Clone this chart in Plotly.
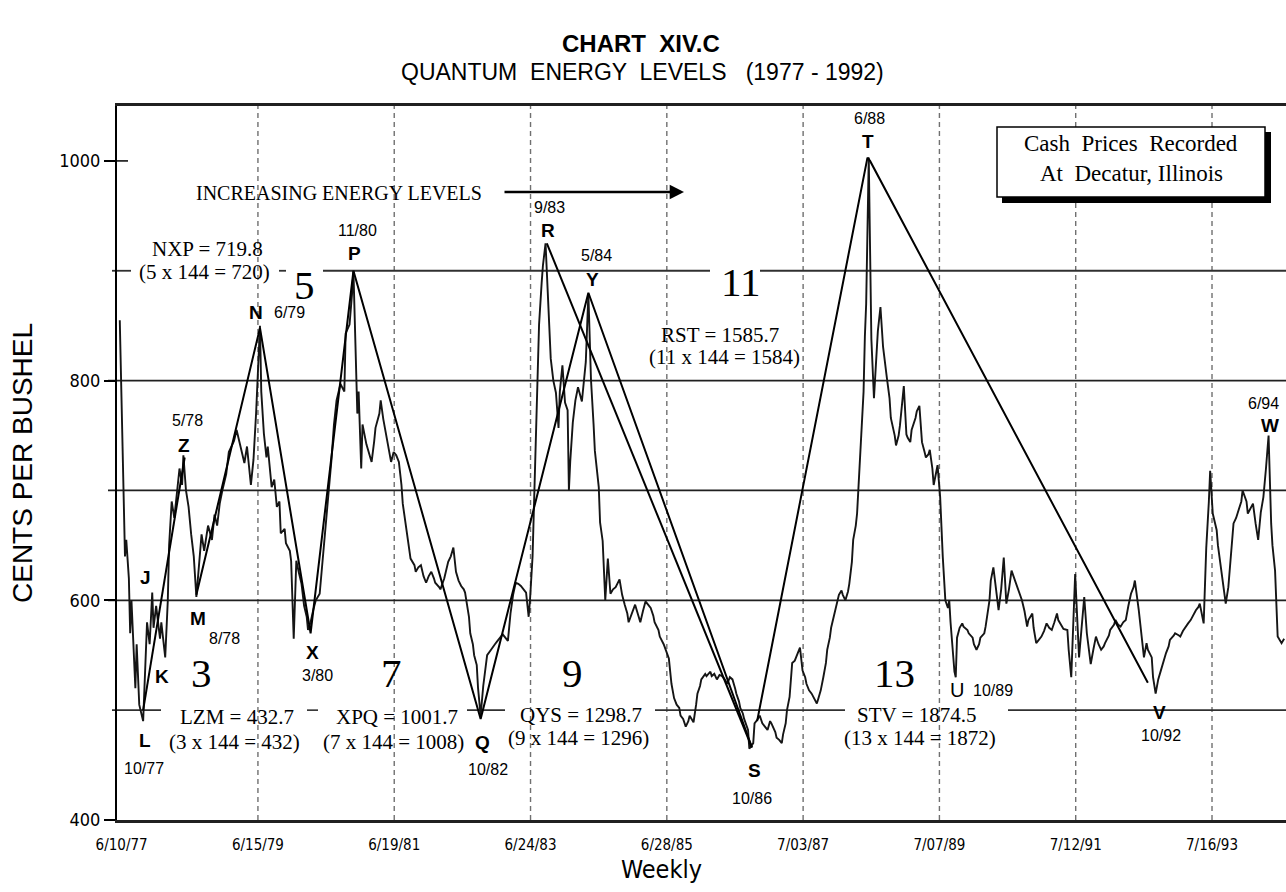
import numpy as np
import pandas as pd
import plotly.graph_objects as go

# ---------------- data ----------------
# weekly cash soybean price, cents per bushel; x = weeks after the first plotted week
week0 = "1977-05-31"
weeks = [0,2,3,4,5,7,8,9,12,13,15,18,19,21,23,25,26,28,31,32,35,37,38,40,42,44,46,48,49,51,53,55,57,59,61,63,65,68,71,73,75,77,79,82,84,88,90,91,94,96,98,100,101,103,105,108,109,111,113,114,117,119,121,123,124,127,128,131,132,134,136,138,140,142,144,145,147,149,151,154,155,157,159,161,163,165,167,170,173,174,177,179,180,
183,184,186,187,190,192,194,196,197,200,201,203,205,207,209,211,213,215,217,218,220,222,224,227,228,230,232,234,236,238,240,242,243,246,247,250,251,253,255,257,259,261,263,265,266,269,270,272,273,275,276,278,280,282,283,286,287,289,291,293,295,297,299,301,303,305,307,309,311,313,315,316,318,320,323,325,326,328,
330,332,334,336,338,339,341,343,345,346,347,349,351,353,356,359,361,363,365,366,369,370,372,374,376,378,380,382,385,387,389,391,392,395,397,399,401,403,405,407,409,411,412,415,416,419,421,423,425,427,429,431,432,434,436,438,439,442,444,445,447,448,451,452,455,456,458,460,462,464,466,468,470,472,474,475,477,478,480,481,484,485,488,489,491,493,495,497,499,501,502,505,506,508,510,511,513,514,516,518,520,521,524,526,528,529,531,533,535,537,538,540,542,544,545,547,548,550,551,553,554,556,557,559,561,562,564,565,567,568,569,570,571,573,574,575,577,
578,579,581,584,586,588,591,593,594,597,598,600,601,603,604,606,607,609,610,613,614,616,618,620,621,623,624,626,627,630,632,634,636,638,639,640,643,644,
645,647,649,650,653,654,657,658,660,662,663,666,667,670,671,673,675,677,679,681,683,685,687,689,691,693,695,697,699,700,703,704,706,708,710,712,714,716,718,720,722,723,726,727,730,731,733,735,736,739,741,743,745,748,750,752,754,756,758,759,762,763,766,767,769,771,773,775,777,779,781,782,785,787,789,791,792,795,796,798,
800,802,804,806,808,809,812,813,816,817,819,821,823,825,827,829,831,832,835,837,839,840,842,845,846,848,850,852,854,855,858,860,862,864,865,868,869,872,873,875,877,879,881,883,885,887,888,890,892,895,897]
cents = [855,760,690,640,655,620,570,600,520,560,505,490,520,580,560,607,575,595,565,580,548,600,650,690,675,700,720,705,732,700,685,660,640,603,630,660,645,668,655,678,668,688,700,715,735,745,755,750,735,725,740,712,705,728,770,850,790,752,730,740,703,710,685,690,661,665,652,645,636,565,636,625,615,595,585,573,580,591,600,606,620,640,675,700,727,760,782,797,790,843,851,880,900,
770,790,720,760,742,735,726,745,757,770,782,765,751,740,726,735,732,726,705,688,670,657,638,632,626,630,632,622,616,622,626,620,616,612,610,620,626,635,640,648,626,618,613,610,607,585,570,560,550,541,520,495,522,540,550,555,557,560,563,566,569,566,563,588,605,616,615,613,610,607,585,600,640,726,851,889,905,925,
867,820,800,789,757,790,814,780,773,700,726,762,782,794,781,817,879,801,760,736,703,671,654,600,638,606,610,612,619,605,596,588,580,590,596,588,580,590,599,596,593,586,580,573,567,560,554,547,524,511,505,502,495,492,485,490,495,489,505,515,522,528,533,531,535,531,533,528,532,531,528,524,530,528,520,515,508,502,497,492,482,465,470,488,491,495,488,485,482,490,488,480,475,473,470,478,488,500,512,543,545,548,557,536,530,524,518,515,510,506,510,518,530,543,555,566,575,585,592,600,605,609,605,600,608,615,635,655,668,679,700,724,744,790,840,870,1003,
928,838,784,845,867,831,802,784,766,750,741,750,759,780,795,751,748,744,755,766,772,777,744,735,730,733,737,720,705,723,694,640,600,593,600,580,535,530,
566,575,579,576,573,570,566,560,555,560,566,570,576,600,618,630,610,591,610,639,597,610,627,620,612,605,600,590,576,582,588,575,561,564,567,572,579,575,573,580,588,582,576,574,573,555,530,590,624,548,580,603,570,542,555,567,560,555,558,561,568,573,578,582,578,576,580,582,595,606,612,618,591,570,548,561,555,548,530,515,
528,536,545,552,558,564,568,570,568,567,572,576,579,582,587,591,594,597,579,648,690,718,679,664,650,633,618,597,612,627,670,675,682,690,700,690,679,685,688,670,655,680,694,720,750,670,650,627,567,561,565]

# pivot trend lines (week, cents)
lz_weeks = [18, 50]
lz_cents = [500, 730]
chain_weeks = [59, 108, 147, 180, 278, 361, 487]          # M N X P Q Y S
chain_cents = [605, 848, 570, 900, 492, 880, 466]
rs_weeks = [329, 487]                                      # R -> S
rs_cents = [925, 466]
stv_weeks = [491, 576, 578, 792]                           # S -> T -> V
stv_cents = [490, 1003, 1000, 525]

tick_dates = ["1977-06-10", "1979-06-15", "1981-06-19", "1983-06-24", "1985-06-28",
              "1987-07-03", "1989-07-07", "1991-07-12", "1993-07-16"]
tick_text = ["6/10/77", "6/15/79", "6/19/81", "6/24/83", "6/28/85",
             "7/03/87", "7/07/89", "7/12/91", "7/16/93"]
y_ticks = [400, 600, 800, 1000]
full_levels = [600, 700, 800]

# ---------------- helpers ----------------
base = pd.Timestamp(week0)
def wdates(ws):
    return [base + pd.Timedelta(days=7 * int(w)) for w in ws]

L, R, T, B = 117, 1286, 106, 820
def px(x):
    return (x - L) / (R - L)
def py(y):
    return (B - y) / (B - T)

SERIF = "Liberation Serif, Times New Roman, serif"
SANS = "Liberation Sans, Arial, sans-serif"
NARROW = "DejaVu Sans Condensed, Liberation Sans Narrow, Arial Narrow, Liberation Sans, sans-serif"

fig = go.Figure()
fig.add_trace(go.Scatter(x=wdates(weeks), y=cents, mode="lines",
                         line=dict(color="#151515", width=1.9), hoverinfo="skip"))
for ws, cs in [(lz_weeks, lz_cents), (chain_weeks, chain_cents),
               (rs_weeks, rs_cents), (stv_weeks, stv_cents)]:
    fig.add_trace(go.Scatter(x=wdates(ws), y=cs, mode="lines",
                             line=dict(color="black", width=2), hoverinfo="skip"))

shapes = []
for d in tick_dates[1:]:
    shapes.append(dict(type="line", xref="x", yref="paper", x0=d, x1=d, y0=0, y1=1,
                       line=dict(color="#707070", width=1.4, dash="5px,4px"), layer="below"))
for lv in full_levels:
    shapes.append(dict(type="line", xref="paper", yref="y", x0=px(108), x1=1, y0=lv, y1=lv,
                       line=dict(color="#202020", width=1.8), layer="below"))
for a, b in [(112, 131), (279, 286), (323, 710), (760, 1286)]:
    shapes.append(dict(type="line", xref="paper", yref="y", x0=px(a), x1=px(b), y0=900, y1=900,
                       line=dict(color="#303030", width=1.8), layer="below"))
for a, b in [(112, 161), (307, 318), (467, 505), (655, 845), (1008, 1286)]:
    shapes.append(dict(type="line", xref="paper", yref="y", x0=px(a), x1=px(b), y0=500, y1=500,
                       line=dict(color="#303030", width=1.6), layer="below"))
shapes.append(dict(type="line", xref="paper", yref="y", x0=px(117), x1=px(128), y0=1000, y1=1000,
                   line=dict(color="black", width=1.5)))
shapes.append(dict(type="rect", xref="paper", yref="paper", x0=px(1002), x1=px(1271),
                   y0=py(203), y1=py(132), fillcolor="black", line=dict(width=0)))
shapes.append(dict(type="rect", xref="paper", yref="paper", x0=px(997), x1=px(1265),
                   y0=py(197), y1=py(127), fillcolor="white", line=dict(color="black", width=1.5)))

anns = []
def ann(x, y, text, size, family=SANS, bold=False, color="black", **kw):
    t = f"<b>{text}</b>" if bold else text
    d = dict(x=px(x), y=py(y), xref="paper", yref="paper", text=t, showarrow=False,
             xanchor="center", yanchor="middle", font=dict(size=size, family=family, color=color))
    d.update(kw)
    anns.append(d)

ann(641, 43, "CHART  XIV.C", 24, SANS, True)
ann(642, 72, "QUANTUM  ENERGY  LEVELS   (1977 - 1992)", 23, SANS)
ann(22, 463, "CENTS PER BUSHEL", 28, SANS, textangle=-90)
ann(661, 869, "Weekly", 25, NARROW)

ann(1131, 143, "Cash  Prices  Recorded", 23, SERIF)
ann(1131, 173, "At  Decatur, Illinois", 23, SERIF)

FS = 21
ann(339, 193, "INCREASING ENERGY LEVELS", 20, SERIF)
ann(207, 249, "NXP = 719.8", FS, SERIF)
ann(204, 272, "(5 x 144 = 720)", FS, SERIF)
ann(720, 335, "RST = 1585.7", FS, SERIF)
ann(724, 357, "(11 x 144 = 1584)", FS, SERIF)
ann(237, 717, "LZM = 432.7", FS, SERIF)
ann(234, 742, "(3 x 144 = 432)", FS, SERIF)
ann(397, 717, "XPQ = 1001.7", FS, SERIF)
ann(393, 742, "(7 x 144 = 1008)", FS, SERIF)
ann(581, 715, "QYS = 1298.7", FS, SERIF)
ann(578, 738, "(9 x 144 = 1296)", FS, SERIF)
ann(916, 715, "STV = 1874.5", FS, SERIF)
ann(920, 738, "(13 x 144 = 1872)", FS, SERIF)

for x, y, t in [(304, 285, "5"), (740, 282, "11"), (201, 673, "3"), (391, 673, "7"),
                (572, 673, "9"), (894, 673, "13")]:
    ann(x, y, t, 41, SERIF)

for x, y, t in [(145, 577, "J"), (162, 676, "K"), (184, 445, "Z"), (198, 618, "M"),
                (256, 312, "N"), (312, 652, "X"), (354, 253, "P"), (482, 742, "Q"),
                (145, 740, "L"), (548, 230, "R"), (592, 279, "Y"), (754, 770, "S"),
                (868, 141, "T"), (1159, 712, "V"), (1270, 425, "W")]:
    ann(x, y, t, 19, SANS, True)
ann(957, 690, "U", 20, SANS)
for x, y, t in [(187, 420, "5/78"), (224, 638, "8/78"), (289, 312, "6/79"), (317, 675, "3/80"),
                (357, 230, "11/80"), (488, 769, "10/82"), (144, 768, "10/77"), (549, 207, "9/83"),
                (596, 255, "5/84"), (752, 798, "10/86"), (869, 118, "6/88"), (993, 690, "10/89"),
                (1161, 735, "10/92"), (1263, 403, "6/94")]:
    ann(x, y, t, 16, SANS)

anns.append(dict(x=px(684), y=py(192), xref="paper", yref="paper", ax=-181, ay=0,
                 axref="pixel", ayref="pixel", text="", showarrow=True, arrowhead=2,
                 arrowsize=1.1, arrowwidth=2.6, arrowcolor="black"))

fig.update_layout(
    width=1286, height=892,
    margin=dict(l=L, r=0, t=T, b=892 - B),
    plot_bgcolor="white", paper_bgcolor="white", showlegend=False,
    shapes=shapes, annotations=anns,
    xaxis=dict(type="date", range=["1977-05-16", "1994-08-19"], tickvals=tick_dates,
               ticktext=tick_text, showgrid=False, zeroline=False, showline=True,
               linecolor="#202020", linewidth=2.5, mirror=True, ticks="",
               ticklabelstandoff=9, tickfont=dict(family=NARROW, size=15, color="black")),
    yaxis=dict(range=[400, 1050], tickvals=y_ticks, showgrid=False, zeroline=False,
               showline=True, linecolor="black", linewidth=2, ticks="outside", ticklen=11,
               tickwidth=1.5, tickcolor="black",
               tickfont=dict(family=NARROW, size=18, color="black")),
)
fig.write_html("out.html", config={"displayModeBar": False},
               post_script="document.body.style.margin='0';")
